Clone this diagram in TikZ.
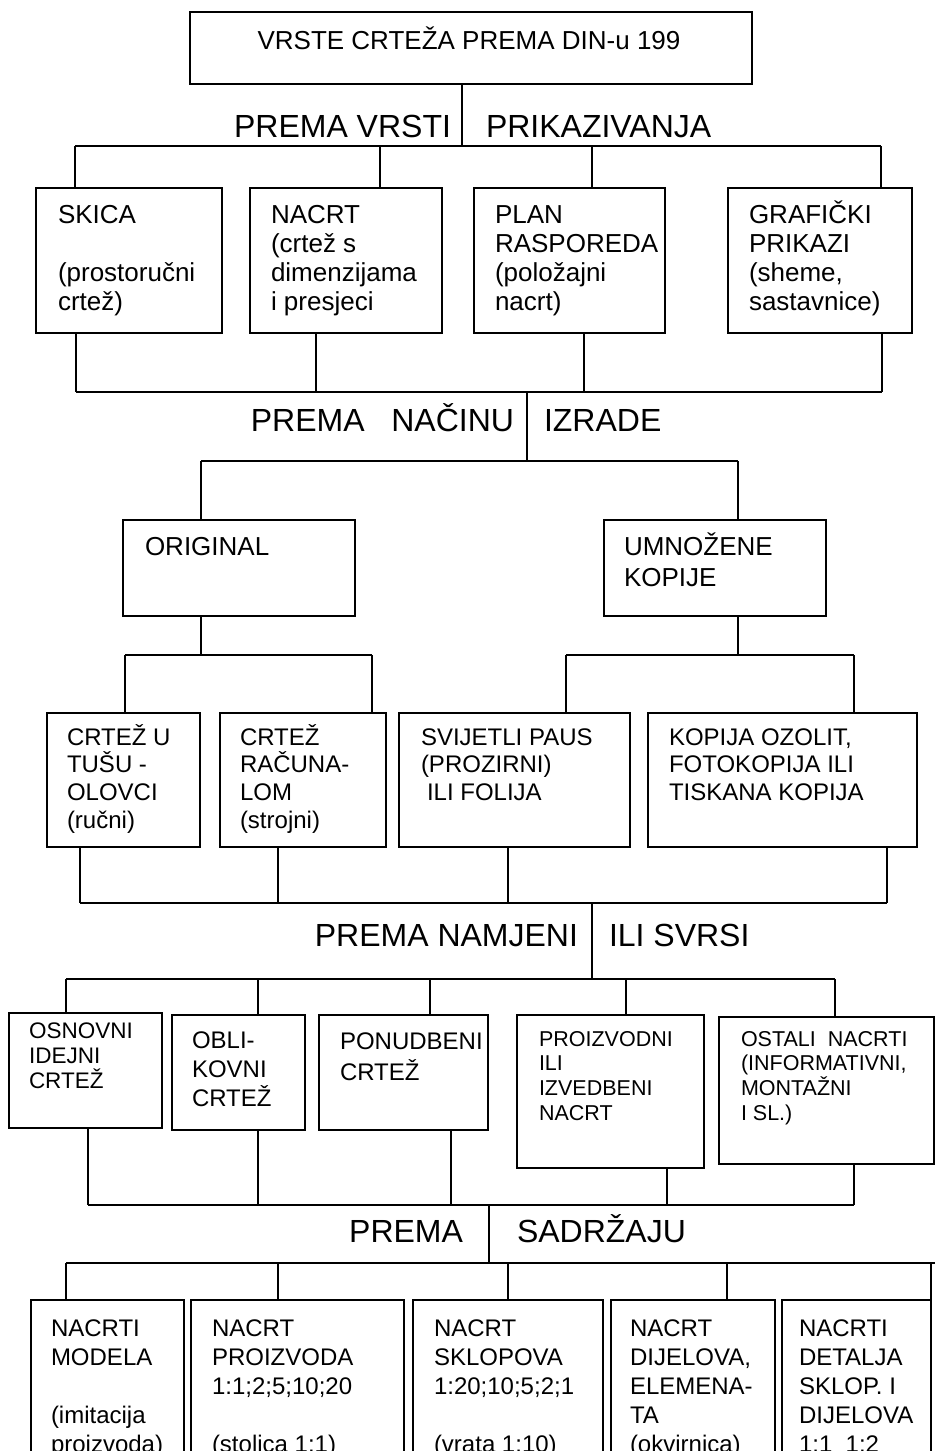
\documentclass[tikz,border=0pt]{standalone}
\usepackage{fontspec}
\setmainfont{Liberation Sans}
% frame: a box whose corners are given in picture units (1 unit = 1pt, y downwards)
\newcommand\frm[5]{\node[frame, minimum width={(#4-#2)*1pt}, minimum height={(#5-#3)*1pt}] (#1) at (#2,#3) {};}
% lines: left-aligned multi-line text, baseline of the first line at the node's base
\newcommand\lines[3]{\parbox[t]{330pt}{\raggedright\fontsize{#1pt}{#2pt}\selectfont #3}}
\begin{document}
\begin{tikzpicture}[x=1pt, y=-1pt,
  frame/.style={draw, line width=1.8pt, inner sep=0pt, outer sep=0pt, anchor=north west},
  wire/.style={line width=1.4pt},
  txt/.style={inner sep=0pt, outer sep=0pt, anchor=base west},
  head/.style={inner sep=0pt, outer sep=0pt, font=\fontsize{32pt}{36pt}\selectfont}]
\useasboundingbox (0,0) rectangle (935,1451);
\clip (0,0) rectangle (935,1451);

% ---------- title ----------
\frm{title}{190}{12}{752}{84}
\node[inner sep=0pt, anchor=base, font=\fontsize{26pt}{30pt}\selectfont] (ttl) at (469,49) {VRSTE CRTEŽA PREMA DIN-u 199};
\coordinate (s1) at (462,146);
\draw[wire] (title.south -| s1) -- (s1);
\node[head, anchor=base east] (h1a) at (451,137) {PREMA VRSTI};
\node[head, anchor=base west] (h1b) at (486,137) {PRIKAZIVANJA};

% ---------- level 1: kind of representation ----------
\coordinate (a11) at (75,146);  \coordinate (a12) at (380,146);
\coordinate (a13) at (592,146); \coordinate (a14) at (881,146);
\draw[wire] (a11) -- (a14);
\frm{b11}{36}{188}{222}{333}
\frm{b12}{250}{188}{442}{333}
\frm{b13}{474}{188}{665}{333}
\frm{b14}{728}{188}{912}{333}
\foreach \a/\b in {a11/b11,a12/b12,a13/b13,a14/b14} \draw[wire] (\a) -- (\a |- \b.north);
\node[txt] (t11) at (58,223)  {\lines{26}{29}{SKICA\\ \mbox{}\\(prostoručni\\crtež)}};
\node[txt] (t12) at (271,223) {\lines{26}{29}{NACRT\\(crtež s\\dimenzijama\\i presjeci}};
\node[txt] (t13) at (495,223) {\lines{26}{29}{PLAN\\RASPOREDA\\(položajni\\nacrt)}};
\node[txt] (t14) at (749,223) {\lines{26}{29}{GRAFIČKI\\PRIKAZI\\(sheme,\\sastavnice)}};
\coordinate (u11) at (76,392);  \coordinate (u12) at (316,392);
\coordinate (u13) at (584,392); \coordinate (u14) at (882,392);
\foreach \u/\b in {u11/b11,u12/b12,u13/b13,u14/b14} \draw[wire] (\u |- \b.south) -- (\u);
\draw[wire] (u11) -- (u14);

% ---------- level 2: way of making ----------
\coordinate (s2t) at (527,392); \coordinate (s2) at (527,461);
\draw[wire] (s2t) -- (s2);
\node[head, anchor=base east] (h2a) at (514,431) {PREMA~~~NAČINU};
\node[head, anchor=base west] (h2b) at (544,431) {IZRADE};
\coordinate (a21) at (201,461); \coordinate (a22) at (738,461);
\draw[wire] (a21) -- (a22);
\frm{b21}{123}{520}{355}{616}
\frm{b22}{604}{520}{826}{616}
\draw[wire] (a21) -- (a21 |- b21.north);
\draw[wire] (a22) -- (a22 |- b22.north);
\node[txt] (t21) at (145,555) {\lines{26}{31}{ORIGINAL}};
\node[txt] (t22) at (624,555) {\lines{26}{31}{UMNOŽENE\\KOPIJE}};

% ---------- level 3: originals and copies ----------
\coordinate (c1) at (201,655); \coordinate (c2) at (738,655);
\draw[wire] (c1 |- b21.south) -- (c1);
\draw[wire] (c2 |- b22.south) -- (c2);
\coordinate (a31) at (125,655); \coordinate (a32) at (372,655);
\coordinate (a33) at (566,655); \coordinate (a34) at (854,655);
\draw[wire] (a31) -- (a32);
\draw[wire] (a33) -- (a34);
\frm{b31}{47}{713}{200}{847}
\frm{b32}{220}{713}{386}{847}
\frm{b33}{399}{713}{630}{847}
\frm{b34}{648}{713}{917}{847}
\foreach \a/\b in {a31/b31,a32/b32,a33/b33,a34/b34} \draw[wire] (\a) -- (\a |- \b.north);
\node[txt] (t31) at (67,745)  {\lines{24}{27.7}{CRTEŽ U\\TUŠU -\\OLOVCI\\(ručni)}};
\node[txt] (t32) at (240,745) {\lines{24}{27.7}{CRTEŽ\\RAČUNA-\\LOM\\(strojni)}};
\node[txt] (t33) at (421,745) {\lines{24}{27.7}{SVIJETLI PAUS\\(PROZIRNI)\\\hspace*{6pt}ILI FOLIJA}};
\node[txt] (t34) at (669,745) {\lines{24}{27.7}{KOPIJA OZOLIT,\\FOTOKOPIJA ILI\\TISKANA KOPIJA}};
\coordinate (u31) at (80,903);  \coordinate (u32) at (278,903);
\coordinate (u33) at (508,903); \coordinate (u34) at (887,903);
\foreach \u/\b in {u31/b31,u32/b32,u33/b33,u34/b34} \draw[wire] (\u |- \b.south) -- (\u);
\draw[wire] (u31) -- (u34);

% ---------- level 4: purpose ----------
\coordinate (s4t) at (592,903); \coordinate (s4) at (592,979);
\draw[wire] (s4t) -- (s4);
\node[head, anchor=base east] (h4a) at (578,946) {PREMA NAMJENI};
\node[head, anchor=base west] (h4b) at (609,946) {ILI SVRSI};
\coordinate (a41) at (66,979);  \coordinate (a42) at (258,979);
\coordinate (a43) at (430,979); \coordinate (a44) at (626,979);
\coordinate (a45) at (835,979);
\draw[wire] (a41) -- (a45);
\frm{b41}{9}{1013}{162}{1128}
\frm{b42}{172}{1015}{305}{1130}
\frm{b43}{319}{1015}{488}{1130}
\frm{b44}{517}{1015}{704}{1168}
\frm{b45}{719}{1017}{934}{1164}
\foreach \a/\b in {a41/b41,a42/b42,a43/b43,a44/b44,a45/b45} \draw[wire] (\a) -- (\a |- \b.north);
\node[txt] (t41) at (29,1038)  {\lines{22.5}{25}{OSNOVNI\\IDEJNI\\CRTEŽ}};
\node[txt] (t42) at (192,1048) {\lines{24}{29}{OBLI-\\KOVNI\\CRTEŽ}};
\node[txt] (t43) at (340,1049) {\lines{24}{31}{PONUDBENI\\CRTEŽ}};
\node[txt] (t44) at (539,1046) {\lines{21.5}{24.7}{PROIZVODNI\\ILI\\IZVEDBENI\\NACRT}};
\node[txt] (t45) at (741,1046) {\lines{21.5}{24.7}{OSTALI~~NACRTI\\(INFORMATIVNI,\\MONTAŽNI\\I SL.)}};
\coordinate (u41) at (88,1205);  \coordinate (u42) at (258,1205);
\coordinate (u43) at (451,1205); \coordinate (u44) at (667,1205);
\coordinate (u45) at (854,1205);
\foreach \u/\b in {u41/b41,u42/b42,u43/b43,u44/b44,u45/b45} \draw[wire] (\u |- \b.south) -- (\u);
\draw[wire] (u41) -- (u45);

% ---------- level 5: content ----------
\coordinate (s5t) at (489,1205); \coordinate (s5) at (489,1263);
\draw[wire] (s5t) -- (s5);
\node[head, anchor=base east] (h5a) at (463,1242) {PREMA};
\node[head, anchor=base west] (h5b) at (517,1242) {SADRŽAJU};
\coordinate (a51) at (66,1263);  \coordinate (a52) at (278,1263);
\coordinate (a53) at (508,1263); \coordinate (a54) at (727,1263);
\coordinate (a55) at (931,1263); \coordinate (a5e) at (935,1263);
\draw[wire] (a51) -- (a5e);
\frm{b51}{31}{1300}{184}{1490}
\frm{b52}{191}{1300}{404}{1490}
\frm{b53}{413}{1300}{603}{1490}
\frm{b54}{611}{1300}{775}{1490}
\frm{b55}{782}{1300}{931}{1490}
\foreach \a/\b in {a51/b51,a52/b52,a53/b53,a54/b54,a55/b55} \draw[wire] (\a) -- (\a |- \b.north);
\node[txt] (t51) at (51,1336)  {\lines{24}{29}{NACRTI\\MODELA\\ \mbox{}\\(imitacija\\proizvoda)}};
\node[txt] (t52) at (212,1336) {\lines{24}{29}{NACRT\\PROIZVODA\\1:1;2;5;10;20\\ \mbox{}\\(stolica 1:1)}};
\node[txt] (t53) at (434,1336) {\lines{24}{29}{NACRT\\SKLOPOVA\\1:20;10;5;2;1\\ \mbox{}\\(vrata 1:10)}};
\node[txt] (t54) at (630,1336) {\lines{24}{29}{NACRT\\DIJELOVA,\\ELEMENA-\\TA\\(okvirnica)}};
\node[txt] (t55) at (799,1336) {\lines{24}{29}{NACRTI\\DETALJA\\SKLOP. I\\DIJELOVA\\1:1~~1:2}};
\end{tikzpicture}
\end{document}
